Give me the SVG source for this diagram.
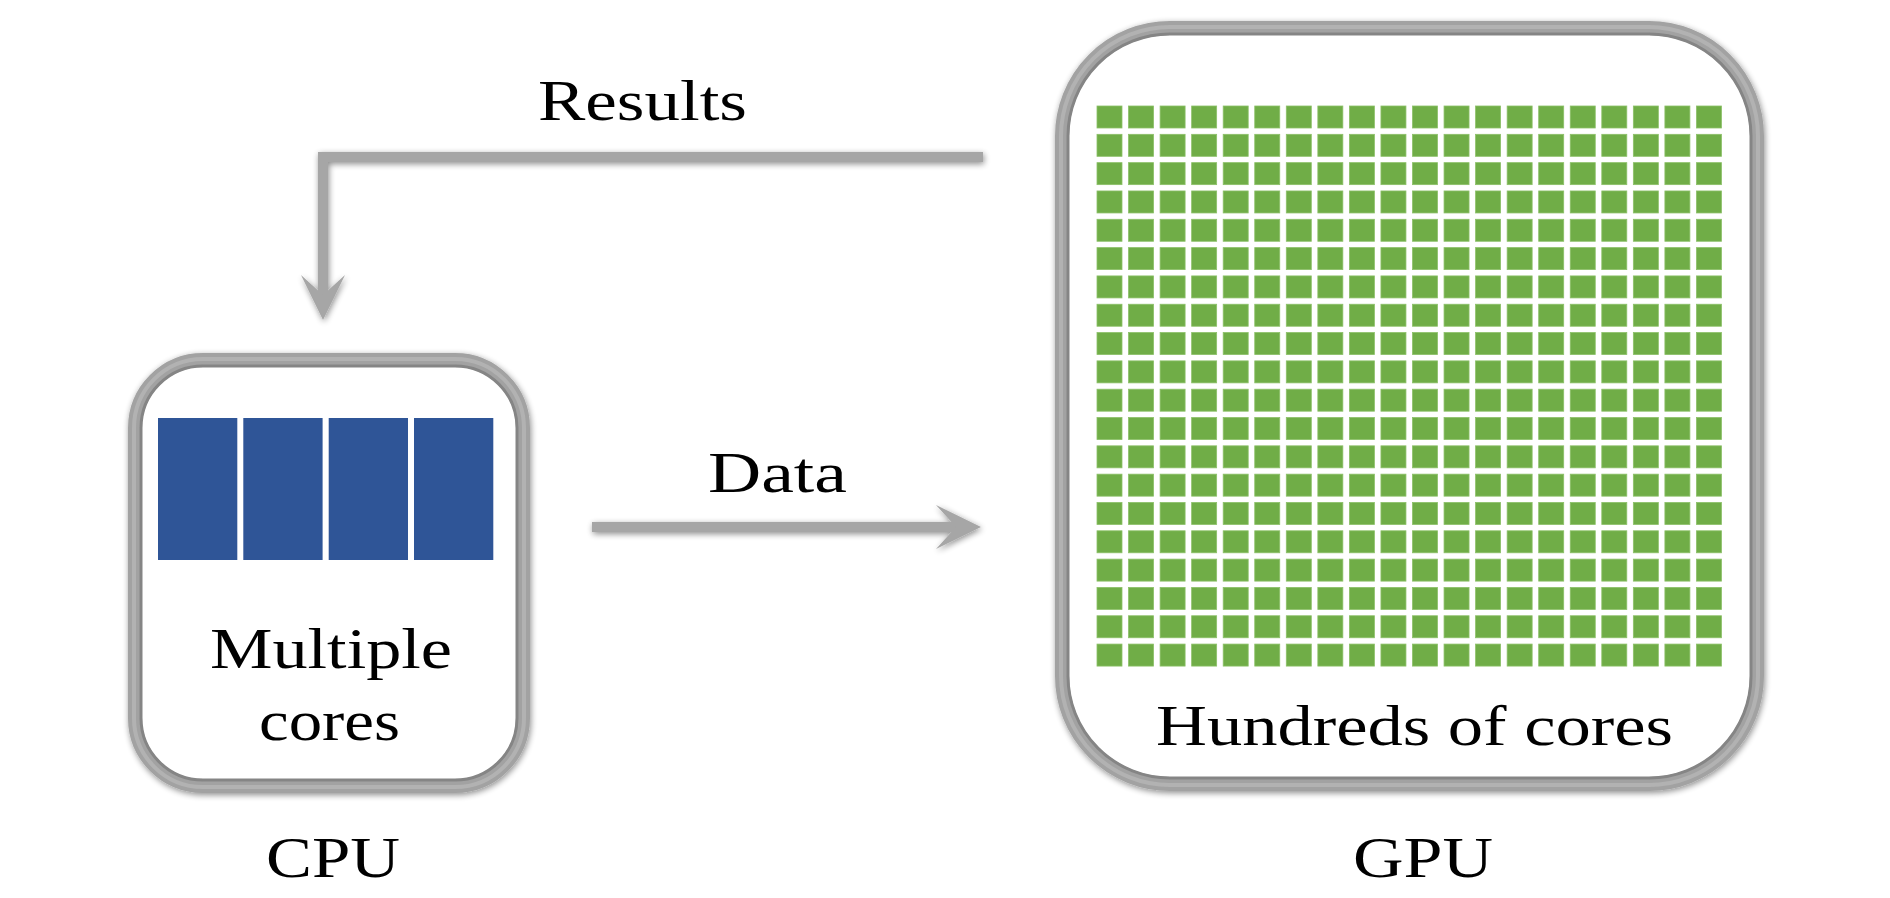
<svg xmlns="http://www.w3.org/2000/svg" xmlns:xlink="http://www.w3.org/1999/xlink" width="1890" height="898" viewBox="0 0 1890 898">
  <style>
    .lbl { font-family: "Liberation Serif", "Times New Roman", serif; font-size: 56px; fill: #000; }
    .frame { fill: #fff; stroke: #a2a2a2; stroke-width: 14; }
    .hl { fill: none; stroke: #b2b2b2; stroke-width: 4; }
    .edge { fill: none; stroke: #858585; stroke-width: 3; }
    .core { fill: #2f5597; }
    .sq { fill: #70ad47; stroke: #8cc068; stroke-width: 0.8; }
    .conn { fill: none; stroke: #a6a6a6; stroke-width: 10; }
  </style>
  <defs>
    <filter id="shadow" x="-10%" y="-10%" width="120%" height="120%">
      <feGaussianBlur in="SourceAlpha" stdDeviation="3"/>
      <feOffset dx="1" dy="2" result="b"/>
      <feComponentTransfer><feFuncA type="linear" slope="0.45"/></feComponentTransfer>
      <feMerge><feMergeNode/><feMergeNode in="SourceGraphic"/></feMerge>
    </filter>
    <marker id="head" markerUnits="userSpaceOnUse" markerWidth="80" markerHeight="80" refX="0" refY="0" orient="auto" overflow="visible" viewBox="-40 -40 80 80">
      <path d="M 16 0 L -29 -22 L -9 0 L -29 22 Z" fill="#a6a6a6"/>
    </marker>
    <g id="row">
      <rect class="sq" x="1097" y="106" width="25" height="22"/>
      <rect class="sq" x="1128.55" y="106" width="25" height="22"/>
      <rect class="sq" x="1160.1" y="106" width="25" height="22"/>
      <rect class="sq" x="1191.65" y="106" width="25" height="22"/>
      <rect class="sq" x="1223.2" y="106" width="25" height="22"/>
      <rect class="sq" x="1254.75" y="106" width="25" height="22"/>
      <rect class="sq" x="1286.3" y="106" width="25" height="22"/>
      <rect class="sq" x="1317.85" y="106" width="25" height="22"/>
      <rect class="sq" x="1349.4" y="106" width="25" height="22"/>
      <rect class="sq" x="1380.95" y="106" width="25" height="22"/>
      <rect class="sq" x="1412.5" y="106" width="25" height="22"/>
      <rect class="sq" x="1444.05" y="106" width="25" height="22"/>
      <rect class="sq" x="1475.6" y="106" width="25" height="22"/>
      <rect class="sq" x="1507.15" y="106" width="25" height="22"/>
      <rect class="sq" x="1538.7" y="106" width="25" height="22"/>
      <rect class="sq" x="1570.25" y="106" width="25" height="22"/>
      <rect class="sq" x="1601.8" y="106" width="25" height="22"/>
      <rect class="sq" x="1633.35" y="106" width="25" height="22"/>
      <rect class="sq" x="1664.9" y="106" width="25" height="22"/>
      <rect class="sq" x="1696.45" y="106" width="25" height="22"/>
    </g>
  </defs>

  <rect width="1890" height="898" fill="#fff"/>

  <g id="cpu">
    <rect class="frame" x="135" y="360" width="388" height="426" rx="68" filter="url(#shadow)"/>
    <rect class="hl" x="134" y="359" width="390" height="428" rx="69"/>
    <rect class="edge" x="141" y="366" width="376" height="414" rx="62"/>
    <rect class="core" x="158" y="418" width="79.3" height="142"/>
    <rect class="core" x="243.3" y="418" width="79.3" height="142"/>
    <rect class="core" x="328.7" y="418" width="79.3" height="142"/>
    <rect class="core" x="414" y="418" width="79.3" height="142"/>
    <text class="lbl" x="210" y="668" textLength="242" lengthAdjust="spacingAndGlyphs">Multiple</text>
    <text class="lbl" x="259" y="740" textLength="141" lengthAdjust="spacingAndGlyphs">cores</text>
    <text class="lbl" x="266" y="877" textLength="134" lengthAdjust="spacingAndGlyphs">CPU</text>
  </g>

  <g id="gpu">
    <rect class="frame" x="1062" y="28" width="695" height="756" rx="108" filter="url(#shadow)"/>
    <rect class="hl" x="1061" y="27" width="697" height="758" rx="109"/>
    <rect class="edge" x="1068" y="34" width="683" height="744" rx="102"/>
    <g id="gpu-cores">
      <use xlink:href="#row"/>
      <use xlink:href="#row" y="28.32"/>
      <use xlink:href="#row" y="56.64"/>
      <use xlink:href="#row" y="84.96"/>
      <use xlink:href="#row" y="113.28"/>
      <use xlink:href="#row" y="141.6"/>
      <use xlink:href="#row" y="169.92"/>
      <use xlink:href="#row" y="198.24"/>
      <use xlink:href="#row" y="226.56"/>
      <use xlink:href="#row" y="254.88"/>
      <use xlink:href="#row" y="283.2"/>
      <use xlink:href="#row" y="311.52"/>
      <use xlink:href="#row" y="339.84"/>
      <use xlink:href="#row" y="368.16"/>
      <use xlink:href="#row" y="396.48"/>
      <use xlink:href="#row" y="424.8"/>
      <use xlink:href="#row" y="453.12"/>
      <use xlink:href="#row" y="481.44"/>
      <use xlink:href="#row" y="509.76"/>
      <use xlink:href="#row" y="538.08"/>
    </g>
    <text class="lbl" x="1156" y="745" textLength="517" lengthAdjust="spacingAndGlyphs">Hundreds of cores</text>
    <text class="lbl" x="1353" y="877" textLength="140" lengthAdjust="spacingAndGlyphs">GPU</text>
  </g>

  <g id="connectors" filter="url(#shadow)">
    <path class="conn" d="M 983 157 H 323 V 304" marker-end="url(#head)"/>
    <path class="conn" d="M 592 527 H 965" marker-end="url(#head)"/>
  </g>

  <g id="labels">
    <text class="lbl" x="538" y="120" textLength="209" lengthAdjust="spacingAndGlyphs">Results</text>
    <text class="lbl" x="708" y="492" textLength="139" lengthAdjust="spacingAndGlyphs">Data</text>
  </g>
</svg>
